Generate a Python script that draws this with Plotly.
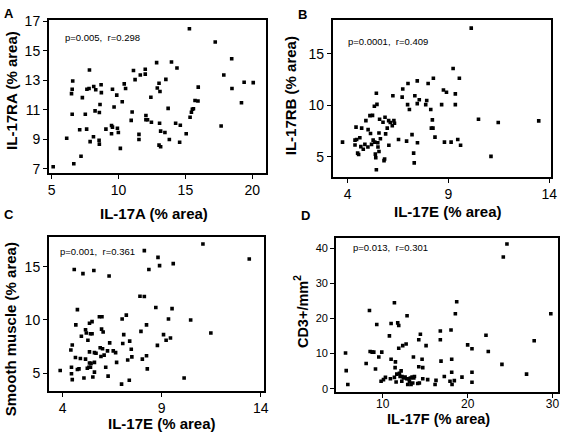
import plotly.graph_objects as go

W, H = 567, 436

# ---------------- Data ----------------
a_x = [5.12, 6.13, 6.66, 6.49, 6.54, 6.58, 6.54, 7.1, 7.2, 7.3, 7.52, 7.62, 7.64, 7.8, 7.83, 7.88,
       8.13, 8.15, 8.25, 8.3, 8.55, 8.57, 8.57, 8.62, 8.7, 8.72, 9.06, 9.48, 9.48, 9.55, 9.55, 9.67,
       9.87, 9.92, 9.99, 10.14, 10.28, 10.43, 10.53, 10.95, 11.02, 11.12, 11.24, 11.53, 11.53, 11.63,
       12.0, 12.0, 12.05, 12.05, 12.17, 12.42, 12.46, 12.85, 12.9, 13.03, 13.1, 13.03, 13.07, 13.15,
       13.15, 13.47, 13.54, 13.71, 13.8, 13.96, 14.27, 14.37, 14.57, 14.62, 15.06, 15.3, 15.35, 15.45,
       15.52, 15.6, 15.72, 15.94, 15.96, 17.23, 17.67, 17.87, 18.46, 18.48, 19.19, 19.39, 20.07]
a_y = [7.15, 9.08, 7.35, 12.1, 12.4, 12.96, 10.7, 9.65, 7.86, 11.83, 10.7, 9.7, 12.4, 12.45, 13.7, 8.85,
       9.18, 12.58, 10.93, 12.36, 8.94, 10.82, 8.68, 11.37, 12.7, 12.17, 9.7, 9.38, 9.94, 9.83, 12.4, 11.2,
       12.0, 9.76, 9.47, 8.39, 11.55, 12.76, 12.45, 10.29, 10.86, 13.67, 13.05, 9.34, 8.99, 13.36,
       13.42, 13.75, 10.62, 10.33, 10.33, 11.86, 10.16, 14.2, 12.48, 8.61, 12.25, 12.8, 10.1, 8.5,
       9.56, 9.47, 13.07, 11.1, 8.99, 14.24, 10.1, 13.84, 8.81, 9.96, 9.38, 16.5, 10.5, 10.84,
       11.04, 11.08, 11.64, 11.6, 12.54, 15.6, 9.91, 13.36, 14.46, 12.45, 11.48, 12.87, 12.85]

b_x = [3.74, 4.36, 4.41, 4.36, 4.44, 4.49, 4.54, 4.6, 4.65, 4.69, 4.77, 4.85, 4.9, 5.01, 5.0, 5.1,
       5.13, 5.18, 5.23, 5.26, 5.32, 5.34, 5.37, 5.39, 5.42, 5.42, 5.45, 5.49, 5.5, 5.55, 5.55, 5.58,
       5.62, 5.75, 5.8, 5.83, 5.85, 5.88, 5.96, 6.03, 6.04, 6.11, 6.21, 6.24, 6.29, 6.32, 6.52, 6.7,
       6.73, 6.92, 6.97, 6.99, 7.06, 7.19, 7.27, 7.3, 7.33, 7.45, 7.45, 7.46, 7.55, 7.87, 7.92, 7.99,
       8.12, 8.15, 8.2, 8.23, 8.25, 8.33, 8.66, 8.75, 8.8, 8.9, 9.13, 9.23, 9.34, 9.34, 9.46, 9.54,
       9.6, 10.13, 10.49, 11.11, 11.47, 13.48]
b_y = [6.42, 6.61, 7.88, 6.14, 6.68, 5.35, 5.22, 6.84, 5.98, 7.78, 5.73, 6.2, 8.51, 7.63, 5.95, 8.99,
       7.25, 6.2, 9.02, 6.61, 9.9, 6.42, 5.25, 4.9, 11.17, 3.73, 10.09, 6.36, 5.95, 5.51, 7.31, 8.64,
       6.74, 8.35, 4.62, 4.78, 8.83, 7.22, 7.78, 8.51, 6.11, 8.32, 8.01, 10.92, 8.51, 8.26, 6.68, 10.79,
       11.58, 6.52, 10.06, 12.12, 9.59, 7.15, 5.35, 4.4, 10.92, 12.37, 10.16, 6.36, 10.54, 10.06, 10.47, 12.12,
       9.59, 7.78, 8.58, 7.78, 12.63, 6.9, 10.06, 11.49, 6.42, 11.27, 6.42, 13.58, 11.11, 10.06, 6.68, 12.63,
       6.11, 17.5, 8.64, 5.03, 8.32, 8.48]

c_x = [3.87, 4.41, 4.48, 4.44, 4.44, 4.48, 4.58, 4.64, 4.66, 4.74, 4.74, 4.82, 4.89, 4.94, 5.02, 5.07,
       5.15, 5.15, 5.19, 5.24, 5.27, 5.32, 5.35, 5.35, 5.35, 5.4, 5.4, 5.43, 5.48, 5.48, 5.52, 5.57,
       5.6, 5.6, 5.6, 5.68, 5.85, 5.89, 5.93, 5.96, 5.98, 6.01, 6.04, 6.09, 6.17, 6.26, 6.29, 6.34,
       6.37, 6.55, 6.67, 6.72, 6.97, 7.0, 7.03, 7.08, 7.21, 7.28, 7.36, 7.38, 7.46, 7.49, 7.9, 7.95,
       8.02, 8.12, 8.12, 8.23, 8.23, 8.27, 8.35, 8.7, 8.78, 8.81, 8.89, 9.09, 9.22, 9.34, 9.44, 9.52,
       9.58, 10.13, 10.46, 11.08, 11.48, 13.42]
c_y = [5.25, 7.18, 7.64, 5.55, 4.94, 4.39, 14.75, 6.47, 9.54, 10.98, 5.34, 5.4, 6.38, 8.47, 14.36, 4.54,
       9.08, 6.32, 8.77, 5.46, 8.1, 5.55, 9.69, 7.0, 5.95, 8.71, 5.55, 5.92, 9.85, 8.71, 4.63, 14.66,
       6.01, 5.09, 6.93, 6.87, 10.3, 7.39, 6.56, 9.14, 10.3, 7.3, 8.87, 6.69, 5.55, 7.09, 4.72, 14.14,
       7.85, 7.09, 6.93, 6.01, 3.96, 10.09, 7.79, 8.62, 10.46, 6.23, 4.33, 8.01, 7.24, 6.53, 12.24, 8.93,
       6.32, 12.21, 16.53, 9.54, 6.63, 5.4, 14.75, 11.17, 7.61, 15.89, 15.12, 8.62, 8.1, 10.09, 8.31, 11.07,
       15.31, 4.54, 10.0, 17.15, 8.77, 15.74]

d_x = [5.61, 5.69, 5.88, 8.04, 8.43, 8.51, 8.75, 8.94, 9.14, 9.29, 9.53, 9.8, 9.88, 10.08, 10.31, 10.78,
       10.9, 10.98, 10.98, 11.37, 11.37, 11.45, 11.49, 11.57, 11.65, 11.76, 11.88, 11.88, 11.96, 12.04,
       12.16, 12.24, 12.27, 12.35, 12.43, 12.63, 12.75, 12.82, 12.86, 12.94, 13.02, 13.14, 13.25, 13.33,
       13.45, 13.53, 13.61, 13.65, 13.73, 14.12, 14.24, 14.24, 14.31, 14.43, 14.63, 14.71, 14.71, 15.1,
       15.29, 16.16, 16.27, 16.78, 16.78, 16.86, 17.25, 17.92, 18.04, 18.12, 18.12, 18.16, 18.43, 18.55,
       18.71, 19.33, 20.0, 20.51, 20.51, 20.51, 22.16, 22.43, 24.04, 24.2, 24.63, 26.94, 27.84, 29.8]
d_y = [10.16, 5.17, 1.2, 7.2, 22.25, 10.62, 10.43, 10.43, 5.63, 18.28, 9.05, 2.12, 10.43, 2.59, 3.23, 15.05,
       2.86, 18.56, 8.4, 24.47, 3.23, 6.0, 7.66, 1.94, 4.16, 18.74, 18.0, 11.54, 4.43, 3.51,
       5.08, 2.12, 3.51, 12.28, 3.05, 3.32, 12.74, 2.86, 20.78, 1.2, 2.86, 2.12, 3.05, 1.2,
       3.32, 1.66, 9.05, 3.05, 3.51, 1.48, 6.28, 13.94, 1.66, 15.51, 8.4, 6.0, 2.86, 12.28,
       2.59, 1.2, 2.4, 16.44, 13.94, 7.85, 3.51, 2.12, 16.71, 8.4, 4.71, 1.2, 2.31, 21.33,
       24.75, 3.32, 12.47, 11.36, 4.71, 1.85, 15.24, 10.62, 6.93, 37.49, 41.18, 4.16, 13.67, 21.33]

a_xticks = [5, 10, 15, 20]
a_yticks = [7, 9, 11, 13, 15, 17]
b_xticks = [4, 9, 14]
b_yticks = [5, 10, 15]
c_xticks = [4, 9, 14]
c_yticks = [5, 10, 15]
d_xticks = [10, 20, 30]
d_yticks = [0, 10, 20, 30, 40]

stats = ["p=0.005,\u00a0 r=0.298", "p=0.0001,\u00a0 r=0.409", "p=0.001,\u00a0 r=0.361", "p=0.013,\u00a0 r=0.301"]
x_titles = ["IL-17A (% area)", "IL-17E (% area)", "IL-17E (% area)", "IL-17F (% area)"]
y_titles = ["IL-17RA (% area)", "IL-17RB (% area)", "Smooth muscle (% area)", "CD3+/mm<sup>2</sup>"]
letters = ["A", "B", "C", "D"]

# ---------------- Layout helpers (pixel geometry) ----------------
FONT = "Liberation Sans, Arial, sans-serif"

def px(x):
    return x / W

def py(y):
    return 1 - y / H

panels = [
    # box left, right, top, bottom (px); x range; y range
    dict(box=(48.5, 268, 14, 171), xr=[4.8, 21.0], yr=[6.72, 17.11], tick=14, ytick=14, xso=-1, tf=15),
    dict(box=(336, 557.3, 14, 175), xr=[3.26, 14.11], yr=[3.03, 18.32], tick=14, ytick=14, xso=-1, tf=15),
    dict(box=(48.5, 266, 236, 394), xr=[3.3, 14.15], yr=[3.32, 17.85], tick=14, ytick=14, xso=-1, tf=15),
    dict(box=(339.3, 564, 237, 395), xr=[4.5, 30.65], yr=[-0.9, 43.0], tick=12, ytick=11, xso=-4, tf=14.5),
]
data = [(a_x, a_y, a_xticks, a_yticks), (b_x, b_y, b_xticks, b_yticks),
        (c_x, c_y, c_xticks, c_yticks), (d_x, d_y, d_xticks, d_yticks)]

fig = go.Figure()
layout = dict(
    width=W, height=H, margin=dict(l=0, r=0, t=0, b=0),
    paper_bgcolor="white", plot_bgcolor="white", showlegend=False,
    font=dict(family=FONT, color="black"),
)
annotations = []

for i, (p, (xs, ys, xt, yt)) in enumerate(zip(panels, data)):
    n = "" if i == 0 else str(i + 1)
    L, R, T, B = p["box"]
    fig.add_trace(go.Scatter(
        x=xs, y=ys, mode="markers", xaxis="x" + n, yaxis="y" + n,
        marker=dict(symbol="square", size=3.6, color="black", line=dict(width=0)),
        hoverinfo="skip"))
    layout["xaxis" + n] = dict(
        domain=[px(L), px(R)], range=p["xr"], anchor="y" + n,
        tickvals=xt, ticks="outside", ticklen=4, tickwidth=1.2, tickcolor="black",
        ticklabelstandoff=p["xso"],
        showline=True, linecolor="black", linewidth=1.8, mirror=True,
        showgrid=False, zeroline=False,
        tickfont=dict(size=p["tick"], family=FONT, color="black"))
    layout["yaxis" + n] = dict(
        domain=[py(B), py(T)], range=p["yr"], anchor="x" + n,
        tickvals=yt, ticks="outside", ticklen=4, tickwidth=1.2, tickcolor="black",
        showline=True, linecolor="black", linewidth=1.8, mirror=True,
        showgrid=False, zeroline=False,
        tickfont=dict(size=p["ytick"], family=FONT, color="black"))

# text positions (px)
stat_pos = [(63, 32), (349, 36), (58, 251), (354, 247)]
xt_pos = [(155, 212), (453, 210), (163, 427), (443, 423)]
yt_pos = [(10, 86), (294, 92), (10, 331), (304, 313)]
letter_pos = [(8, 8), (305, 9), (8, 213), (308, 214)]

for i in range(4):
    annotations.append(dict(
        text=stats[i], x=px(stat_pos[i][0]), y=py(stat_pos[i][1]),
        xref="paper", yref="paper", xanchor="left", yanchor="middle",
        showarrow=False, font=dict(size=9.5, family=FONT, color="black")))
    annotations.append(dict(
        text="<b>" + x_titles[i] + "</b>", x=px(xt_pos[i][0]), y=py(xt_pos[i][1]),
        xref="paper", yref="paper", xanchor="center", yanchor="middle",
        showarrow=False, font=dict(size=panels[i]["tf"], family=FONT, color="black")))
    annotations.append(dict(
        text="<b>" + y_titles[i] + "</b>", x=px(yt_pos[i][0]), y=py(yt_pos[i][1]),
        xref="paper", yref="paper", xanchor="center", yanchor="middle", textangle=-90,
        showarrow=False, font=dict(size=panels[i]["tf"], family=FONT, color="black")))
    annotations.append(dict(
        text="<b>" + letters[i] + "</b>", x=px(letter_pos[i][0]), y=py(letter_pos[i][1]),
        xref="paper", yref="paper", xanchor="center", yanchor="middle",
        showarrow=False, font=dict(size=13, family=FONT, color="black")))

layout["annotations"] = annotations
fig.update_layout(**layout)
fig.write_html("out.html", config={"displayModeBar": False},
               post_script="document.body.style.margin='0px';document.body.style.overflow='hidden';")
